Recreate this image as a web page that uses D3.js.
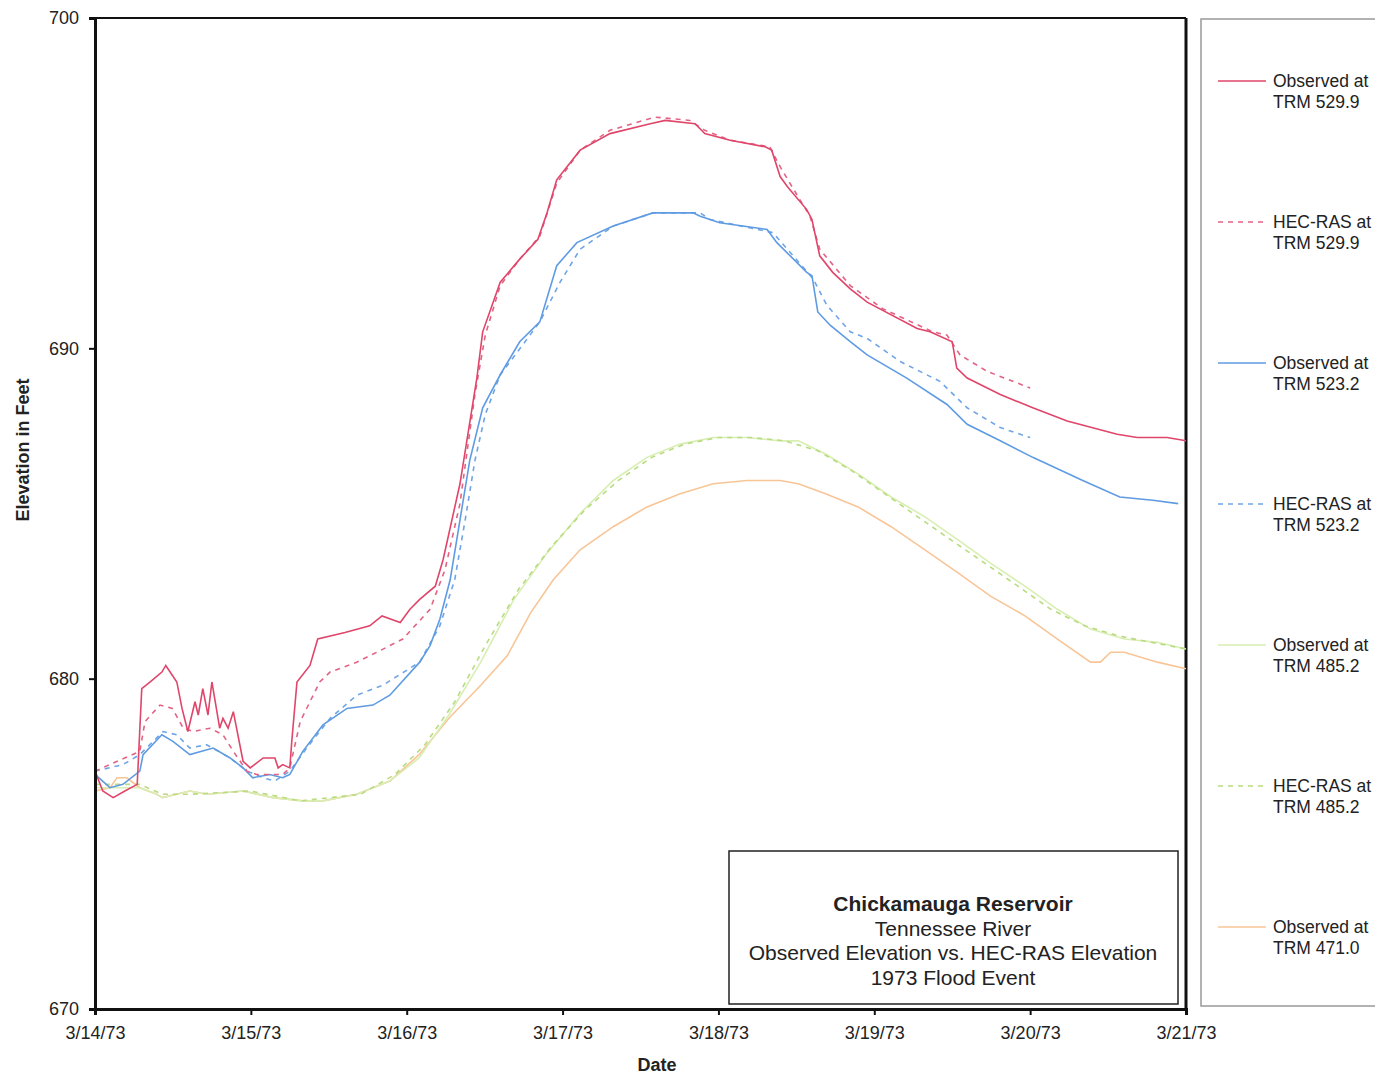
<!DOCTYPE html>
<html>
<head>
<meta charset="utf-8">
<script src="https://cdn.jsdelivr.net/npm/d3@7"></script>
<style>
  body { margin: 0; background: #fff; }
  svg { font-family: "Liberation Sans", Arial, sans-serif; }
</style>
</head>
<body>
<main></main>
<script>
// hours after 3/14/73 00:00, elevation in feet
const obs5299 = [[0,677.2],[1.2,676.6],[2.8,676.4],[4.6,676.6],[6.5,676.8],[7.2,679.7],[8.5,679.9],[10.3,680.2],[10.9,680.4],
  [12.6,679.9],[13.4,679.1],[14.3,678.4],[15.4,679.3],[15.9,678.9],[16.6,679.7],[17.4,678.9],[18.0,679.9],[19.2,678.5],
  [19.7,678.8],[20.5,678.5],[21.3,679.0],[22.8,677.5],[23.9,677.3],[25.9,677.6],[27.7,677.6],[28.2,677.3],[28.9,677.4],
  [30.0,677.3],[30.3,678.1],[31.1,679.9],[33.1,680.4],[34.3,681.2],[38.5,681.4],[42.3,681.6],[44.2,681.9],[47.0,681.7],
  [48.5,682.1],[50.0,682.4],[52.4,682.8],[53.6,683.6],[56.2,685.9],[58.8,689.1],[59.7,690.5],[62.4,692.0],[65.4,692.7],
  [68.2,693.3],[69.6,694.1],[71.1,695.1],[74.7,696.0],[79.3,696.5],[85.5,696.8],[87.8,696.9],[92.4,696.8],[93.9,696.5],
  [97.8,696.3],[103.2,696.1],[104.2,696.0],[105.5,695.2],[106.6,694.9],[109.6,694.2],[110.4,693.9],[111.6,692.8],
  [113.6,692.3],[116.3,691.8],[118.9,691.4],[126.6,690.6],[128.6,690.5],[132.0,690.2],[132.7,689.4],[134.3,689.1],
  [139.4,688.6],[144.4,688.2],[149.7,687.8],[157.4,687.4],[160.5,687.3],[165.1,687.3],[168,687.2]];

const ras5299 = [[0,677.2],[6.9,677.8],[7.7,678.7],[10.0,679.2],[11.9,679.1],[13.6,678.5],[15.1,678.4],[17.7,678.5],
  [19.7,678.3],[21.3,677.8],[23.4,677.2],[24.9,677.1],[28.9,677.1],[30.0,677.3],[31.6,678.7],[34.6,679.9],[36.2,680.2],
  [40.3,680.5],[43.4,680.8],[47.4,681.2],[51.6,682.1],[53.9,683.3],[56.2,685.3],[58.5,688.6],[60.1,690.4],[62.4,691.9],
  [65.4,692.7],[68.5,693.4],[71.1,695.0],[74.7,696.0],[79.3,696.6],[86.2,697.0],[91.6,696.9],[93.9,696.6],[97.8,696.3],
  [103.9,696.1],[105.5,695.5],[107.0,695.0],[110.1,694.0],[111.6,693.0],[116.3,691.9],[121.3,691.2],[129.0,690.5],
  [131.2,690.4],[133.2,689.8],[137.4,689.3],[144.0,688.8]];

const obs5232 = [[0,677.1],[2.3,676.7],[4.3,676.8],[6.9,677.2],[7.4,677.7],[10.3,678.3],[12.0,678.1],[14.6,677.7],
  [18.2,677.9],[20.8,677.6],[22.8,677.3],[24.3,677.0],[26.9,677.1],[28.9,677.0],[30.0,677.1],[32.0,677.8],[35.1,678.6],
  [38.8,679.1],[42.8,679.2],[45.4,679.5],[50.0,680.5],[51.6,681.0],[53.1,681.8],[54.7,683.0],[56.2,684.8],[57.7,686.6],
  [59.7,688.2],[62.4,689.2],[65.4,690.2],[68.5,690.8],[71.1,692.5],[74.2,693.2],[79.8,693.7],[85.9,694.1],[92.1,694.1],
  [93.2,694.0],[96.2,693.8],[103.5,693.6],[105.0,693.2],[109.6,692.3],[110.4,692.2],[111.3,691.1],[113.2,690.7],
  [116.3,690.2],[118.9,689.8],[125.0,689.1],[131.2,688.3],[134.3,687.7],[139.4,687.2],[144.4,686.7],[152.1,686.0],
  [157.8,685.5],[162.9,685.4],[166.8,685.3]];

const ras5232 = [[0,677.2],[4.3,677.4],[6.9,677.7],[10.5,678.4],[12.6,678.3],[14.6,677.9],[17.2,678.0],[20.8,677.6],
  [23.4,677.2],[25.9,677.0],[27.7,676.9],[30.0,677.2],[32.6,677.9],[36.2,678.8],[40.3,679.5],[44.3,679.8],[50.0,680.5],
  [53.1,681.6],[55.4,683.0],[57.0,684.8],[58.5,686.6],[60.1,688.0],[62.4,689.2],[68.5,690.8],[71.6,692.0],[74.7,693.0],
  [79.8,693.7],[85.9,694.1],[93.2,694.1],[94.7,693.9],[104.4,693.5],[110.6,692.1],[112.7,691.3],[116.3,690.5],
  [118.9,690.3],[124.0,689.6],[130.1,689.0],[134.3,688.2],[139.4,687.6],[144.0,687.3]];

const obs4852 = [[0,676.7],[2.3,676.7],[6.9,676.7],[9.5,676.5],[10.4,676.4],[14.6,676.6],[17.2,676.5],[22.8,676.6],
  [27.4,676.4],[32.0,676.3],[35.1,676.3],[40.3,676.5],[45.4,676.9],[49.9,677.6],[54.5,678.9],[59.4,680.5],[64.5,682.4],
  [69.6,683.8],[74.7,685.0],[79.8,686.0],[85.0,686.7],[90.1,687.1],[95.2,687.3],[100.4,687.3],[105.5,687.2],[108.3,687.2],
  [112.5,686.8],[117.5,686.2],[122.6,685.5],[127.8,684.9],[132.9,684.2],[137.9,683.5],[143.2,682.8],[148.2,682.1],
  [153.3,681.5],[158.5,681.2],[163.6,681.1],[168,680.9]];

const ras4852 = [[0,676.8],[6.9,676.8],[10.4,676.5],[14.6,676.5],[23.9,676.6],[31.6,676.3],[40.9,676.5],[46.2,677.1],
  [50.8,678.0],[55.4,679.3],[60.1,681.0],[65.2,682.7],[70.3,684.0],[75.4,685.1],[80.6,686.0],[85.7,686.7],[90.8,687.1],
  [96.0,687.3],[101.1,687.3],[106.2,687.2],[111.3,686.9],[116.5,686.3],[121.6,685.6],[126.7,684.9],[131.8,684.2],
  [137.0,683.5],[142.1,682.8],[147.2,682.1],[152.4,681.6],[157.5,681.3],[162.6,681.1],[168,680.9]];

const obs4710 = [[0,676.6],[2.3,676.7],[3.4,677.0],[4.9,677.0],[6.9,676.7],[9.5,676.5],[10.4,676.4],[14.6,676.6],
  [17.2,676.5],[22.8,676.6],[27.4,676.4],[32.0,676.3],[35.1,676.3],[40.3,676.5],[45.4,676.9],[49.9,677.7],[54.5,678.8],
  [59.4,679.8],[63.5,680.7],[67.1,682.0],[70.6,683.0],[74.7,683.9],[79.8,684.6],[85.0,685.2],[90.1,685.6],[95.2,685.9],
  [100.4,686.0],[105.5,686.0],[108.3,685.9],[112.5,685.6],[117.5,685.2],[122.6,684.6],[127.8,683.9],[132.9,683.2],
  [137.9,682.5],[143.2,681.9],[148.2,681.2],[153.3,680.5],[154.8,680.5],[156.4,680.8],[158.5,680.8],[163.6,680.5],
  [168,680.3]];

const dayTicks = ["3/14/73","3/15/73","3/16/73","3/17/73","3/18/73","3/19/73","3/20/73","3/21/73"];
const yTicks = [670, 680, 690, 700];

const series = [
  {name: ["Observed at", "TRM 529.9"], data: obs5299, color: "#e0456a", dash: null},
  {name: ["HEC-RAS at", "TRM 529.9"], data: ras5299, color: "#e26484", dash: "5,5"},
  {name: ["Observed at", "TRM 523.2"], data: obs5232, color: "#5f9be2", dash: null},
  {name: ["HEC-RAS at", "TRM 523.2"], data: ras5232, color: "#6fa5e6", dash: "5,5"},
  {name: ["Observed at", "TRM 485.2"], data: obs4852, color: "#d8eeb2", dash: null},
  {name: ["HEC-RAS at", "TRM 485.2"], data: ras4852, color: "#b8dc80", dash: "5,5"},
  {name: ["Observed at", "TRM 471.0"], data: obs4710, color: "#f8c597", dash: null}
];

const w = 1375, h = 1076;
const pLeft = 95, pRight = 1186, pTop = 18, pBottom = 1009;
const t0 = new Date(1973, 2, 14);
const hr = (x) => new Date(t0.getTime() + x * 3600000);

const xScale = d3.scaleTime()
  .domain([t0, new Date(1973, 2, 21)])
  .range([pLeft, pRight]);
const yScale = d3.scaleLinear()
  .domain([670, 700])
  .range([pBottom, pTop]);

const svg = d3.select("main").append("svg")
  .attr("width", w)
  .attr("height", h);

// plot frame (top/right)
svg.append("line").attr("x1", pLeft).attr("x2", pRight).attr("y1", pTop).attr("y2", pTop)
  .attr("stroke", "#111").attr("stroke-width", 2);
svg.append("line").attr("x1", pRight).attr("x2", pRight).attr("y1", pTop).attr("y2", pBottom)
  .attr("stroke", "#111").attr("stroke-width", 3);

const line = d3.line()
  .x((d) => xScale(hr(d[0])))
  .y((d) => yScale(d[1]));

// draw light ones first, red last
const order = [6, 4, 5, 3, 2, 1, 0];
order.forEach((i) => {
  const s = series[i];
  svg.append("path")
    .datum(s.data)
    .attr("d", line)
    .attr("fill", "none")
    .attr("stroke", s.color)
    .attr("stroke-width", 1.6)
    .attr("stroke-dasharray", s.dash);
});

// axes
const xAxis = d3.axisBottom(xScale)
  .tickValues(dayTicks.map((d, i) => new Date(1973, 2, 14 + i)))
  .tickFormat((d, i) => dayTicks[i])
  .tickSizeOuter(0)
  .tickSize(6);
const gx = svg.append("g")
  .attr("transform", "translate(0," + pBottom + ")")
  .call(xAxis);
gx.select(".domain").attr("stroke", "#111").attr("stroke-width", 3);
gx.selectAll(".tick line").attr("stroke", "#111").attr("stroke-width", 2);
gx.selectAll("text").attr("font-size", 18).attr("fill", "#222").attr("y", 30).attr("dy", 0);

const yAxis = d3.axisLeft(yScale)
  .tickValues(yTicks)
  .tickFormat(d3.format("d"))
  .tickSizeOuter(0)
  .tickSize(6);
const gy = svg.append("g")
  .attr("transform", "translate(" + pLeft + ",0)")
  .call(yAxis);
gy.select(".domain").attr("stroke", "#111").attr("stroke-width", 3);
gy.selectAll(".tick line").attr("stroke", "#111").attr("stroke-width", 2);
gy.selectAll("text").attr("font-size", 18).attr("fill", "#222").attr("x", -16);

svg.append("text")
  .attr("x", 657)
  .attr("y", 1071)
  .attr("text-anchor", "middle")
  .attr("font-size", 18)
  .attr("font-weight", "bold")
  .attr("fill", "#222")
  .text("Date");

svg.append("text")
  .attr("transform", "rotate(-90)")
  .attr("x", -450)
  .attr("y", 29)
  .attr("text-anchor", "middle")
  .attr("font-size", 18)
  .attr("font-weight", "bold")
  .attr("fill", "#222")
  .text("Elevation in Feet");

// title box
const box = svg.append("g");
box.append("rect")
  .attr("x", 729).attr("y", 851).attr("width", 449).attr("height", 153)
  .attr("fill", "#fff").attr("stroke", "#222").attr("stroke-width", 1.5);
const titleLines = ["Chickamauga Reservoir", "Tennessee River", "Observed Elevation vs. HEC-RAS Elevation", "1973 Flood Event"];
box.selectAll("text")
  .data(titleLines)
  .enter()
  .append("text")
  .attr("x", 953)
  .attr("y", (d, i) => 911 + i * 24.5)
  .attr("text-anchor", "middle")
  .attr("font-size", 21)
  .attr("font-weight", (d, i) => i === 0 ? "bold" : "normal")
  .attr("fill", "#222")
  .text((d) => d);

// legend
const leg = svg.append("g");
leg.append("rect")
  .attr("x", 1201).attr("y", 19).attr("width", 200).attr("height", 987)
  .attr("fill", "none").attr("stroke", "#999").attr("stroke-width", 1.5);
const legY = d3.scaleLinear().domain([0, 6]).range([81, 927]);
series.forEach((s, i) => {
  const y = legY(i);
  leg.append("line")
    .attr("x1", 1218).attr("x2", 1266).attr("y1", y).attr("y2", y)
    .attr("stroke", s.color)
    .attr("stroke-width", 1.6)
    .attr("stroke-dasharray", s.dash);
  leg.append("text")
    .attr("x", 1273).attr("y", y + 6)
    .attr("font-size", 17.5).attr("fill", "#222")
    .text(s.name[0]);
  leg.append("text")
    .attr("x", 1273).attr("y", y + 27)
    .attr("font-size", 17.5).attr("fill", "#222")
    .text(s.name[1]);
});
</script>
</body>
</html>
